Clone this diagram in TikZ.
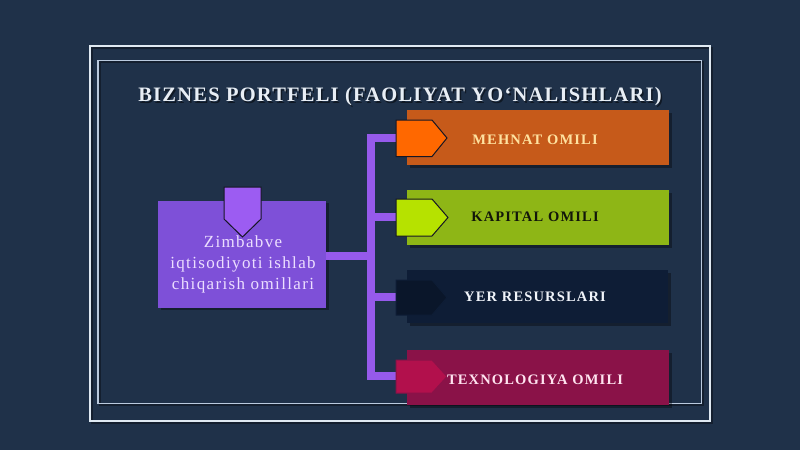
\documentclass[tikz,border=0pt]{standalone}
\usepackage{fontspec}
\setmainfont{Liberation Serif}
\newfontfamily\spacedfont[LetterSpace=6]{Liberation Serif}
\newfontfamily\boxfont[LetterSpace=8]{Liberation Serif}
\usetikzlibrary{calc}
\definecolor{bgc}{RGB}{31,49,73}
\definecolor{outerfr}{RGB}{223,233,242}
\definecolor{innerfr}{RGB}{186,202,222}
\definecolor{srcfill}{RGB}{126,80,216}
\definecolor{srctab}{RGB}{156,92,242}
\definecolor{srctext}{RGB}{236,222,255}
\definecolor{conn}{RGB}{150,90,235}
\definecolor{orbox}{RGB}{198,90,26}
\definecolor{ortab}{RGB}{255,104,0}
\definecolor{ortext}{RGB}{255,226,160}
\definecolor{grbox}{RGB}{142,182,22}
\definecolor{grtab}{RGB}{182,226,0}
\definecolor{grtext}{RGB}{18,22,10}
\definecolor{nvbox}{RGB}{14,29,54}
\definecolor{nvtab}{RGB}{10,22,42}
\definecolor{nvtext}{RGB}{240,244,250}
\definecolor{crbox}{RGB}{138,18,72}
\definecolor{crtab}{RGB}{178,16,76}
\definecolor{crtext}{RGB}{255,228,240}
\definecolor{tabline}{RGB}{22,22,36}
\definecolor{titlec}{RGB}{232,238,245}
\tikzset{
  catbox/.style={rectangle, inner sep=0pt, minimum width=262pt, minimum height=55pt, anchor=north west},
  catlabel/.style={font=\boxfont\bfseries\fontsize{14.5}{16}\selectfont},
  shadowbox/.style={fill=black, opacity=0.35},
  tabshape/.style={draw=tabline, line width=1pt, line join=miter},
  connline/.style={draw=conn, line width=8pt, line join=miter},
}
\begin{document}
\begin{tikzpicture}[x=1pt,y=-1pt]
\useasboundingbox (0,0) rectangle (800,450);
\fill[bgc] (0,0) rectangle (800,450);
% frames
\draw[black, opacity=0.35, line width=2pt] (92,48) rectangle (712,423);
\draw[outerfr, line width=2pt] (90,46) rectangle (710,421);
\draw[black, opacity=0.35, line width=1.5pt] (100,62) rectangle (703,405);
\draw[innerfr, line width=1.8pt] (98,60.5) rectangle (701.5,403.5);
% title
\node[text=black, opacity=0.5, font=\spacedfont\bfseries\fontsize{20.5}{22}\selectfont] at (401.5,98.5) {BIZNES PORTFELI (FAOLIYAT YO‘NALISHLARI)};
\node (title) [text=titlec, font=\spacedfont\bfseries\fontsize{20.5}{22}\selectfont] at (400,97) {BIZNES PORTFELI (FAOLIYAT YO‘NALISHLARI)};
% source box
\fill[shadowbox] (161,203) rectangle (329,310);
\node (src) [rectangle, fill=srcfill, inner sep=0pt, minimum width=168pt, minimum height=107pt, anchor=north west] at (158,200.5) {};
\draw[tabshape, fill=srctab] (224,187) -- (261,187) -- (261,219) -- (242.5,237) -- (224,219) -- cycle;
\node[text=srctext, align=center, font=\boxfont\fontsize{17}{21}\selectfont] at (243,264) {Zimbabve\\iqtisodiyoti ishlab\\chiqarish omillari};
% category boxes
\fill[shadowbox] (410,113) rectangle (672,168);
\node (b1) [catbox, fill=orbox] at (407,110) {};
\fill[shadowbox] (410,193) rectangle (672,248);
\node (b2) [catbox, fill=grbox] at (407,190) {};
\fill[shadowbox] (410,273) rectangle (671,326);
\node (b3) [catbox, fill=nvbox, minimum width=261pt, minimum height=53pt] at (407,270) {};
\fill[shadowbox] (410,353) rectangle (672,408);
\node (b4) [catbox, fill=crbox] at (407,350) {};
% connector coordinates (tab left ends)
\coordinate (t1) at (398,138);
\coordinate (t2) at (398,217);
\coordinate (t3) at (398,297);
\coordinate (t4) at (398,376);
\coordinate (bus) at (371,256);
% connectors
\draw[connline] (src.east |- bus) -- (bus);
\draw[connline] (t1) -- (t1 -| bus) -- (t4 -| bus) -- (t4);
\draw[connline] (t2 -| bus) -- (t2);
\draw[connline] (t3 -| bus) -- (t3);
% tabs
\draw[tabshape, fill=ortab] (396,120) -- (432,120) -- (447,138) -- (432,156.5) -- (396,156.5) -- cycle;
\draw[tabshape, fill=grtab] (396,199) -- (432,199) -- (448,217.5) -- (432,236) -- (396,236) -- cycle;
\draw[tabshape, draw=nvbox, fill=nvtab] (396,280) -- (432,280) -- (447,297.5) -- (432,315) -- (396,315) -- cycle;
\draw[tabshape, draw=crbox, fill=crtab] (396,360) -- (432,360) -- (447,376.5) -- (432,393) -- (396,393) -- cycle;
% labels
\node[catlabel, text=ortext] at (535,140) {MEHNAT OMILI};
\node[catlabel, text=grtext] at (535,217) {KAPITAL OMILI};
\node[catlabel, text=nvtext] at (535,297) {YER RESURSLARI};
\node[catlabel, text=crtext] at (535,380) {TEXNOLOGIYA OMILI};
\end{tikzpicture}
\end{document}
